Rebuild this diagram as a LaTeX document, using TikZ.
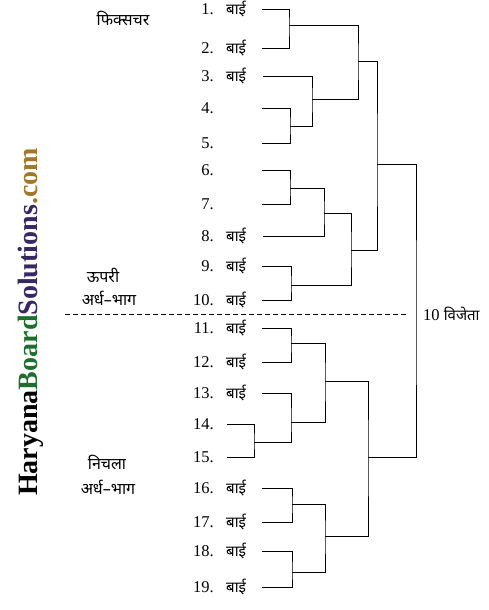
\documentclass[tikz,border=0pt]{standalone}
\usepackage{fontspec}
\setmainfont{Liberation Serif}
\newfontfamily\hindi[Script=Devanagari]{Noto Sans}
\usepackage{tikz}
\definecolor{wmgreen}{RGB}{30,110,45}
\definecolor{wmblue}{RGB}{55,40,100}
\definecolor{wmgold}{RGB}{160,120,40}
\tikzset{
  num/.style={anchor=east,inner sep=0pt,font=\fontsize{16.5}{16.5}\selectfont},
  who/.style={anchor=base west,inner sep=0pt,font=\hindi\fontsize{15}{15}\selectfont},
  side/.style={inner sep=0pt,font=\hindi\fontsize{16}{16}\selectfont},
  tree/.style={line width=0.9pt,black},
}

\begin{document}
\begin{tikzpicture}[x=1pt,y=1pt]
\useasboundingbox (0,0) rectangle (489,-610);
% players
\foreach \i/\y/\x/\w in {1/9/262/बाई,2/48/262/बाई,3/76/263/बाई,4/108/262/{},5/143/262/{},
  6/170/262/{},7/204/262/{},8/236/263/बाई,9/266/262/बाई,10/300/262/बाई,
  11/328/262/बाई,12/362/262/बाई,13/393/262/बाई,14/424/227/{},15/457/227/{},
  16/488/262/बाई,17/522/262/बाई,18/551/262/बाई,19/587/262/बाई}{
  \node[num] (n\i) at (214,-\y) {\i.};
  \node[who] (b\i) at (226,-\y-5.5) {\w};
  \coordinate (s\i) at (\x,-\y);
}
% matches
\coordinate (m12) at (289,-25);
\coordinate (m45) at (290,-126);
\coordinate (m35) at (312,-99);
\coordinate (m15) at (358,-61);
\coordinate (m67) at (290,-188);
\coordinate (m68) at (324,-213);
\coordinate (m910) at (291,-285);
\coordinate (m610) at (351,-250);
\coordinate (m110) at (377,-164);
\coordinate (m1112) at (291,-343);
\coordinate (m1415) at (254,-442);
\coordinate (m1315) at (291,-422);
\coordinate (m1115) at (325,-381);
\coordinate (m1617) at (292,-504);
\coordinate (m1819) at (292,-572);
\coordinate (m1619) at (325,-536);
\coordinate (m1119) at (368,-457);
\coordinate (win) at (416,-314);
\draw[tree] (s1) -| (m12) |- (s2);
\draw[tree] (s4) -| (m45) |- (s5);
\draw[tree] (s3) -| (m35) |- (m45);
\draw[tree] (m12) -| (m15) |- (m35);
\draw[tree] (s6) -| (m67) |- (s7);
\draw[tree] (m67) -| (m68) |- (s8);
\draw[tree] (s9) -| (m910) |- (s10);
\draw[tree] (m68) -| (m610) |- (m910);
\draw[tree] (m15) -| (m110) |- (m610);
\draw[tree] (s11) -| (m1112) |- (s12);
\draw[tree] (s14) -| (m1415) |- (s15);
\draw[tree] (s13) -| (m1315) |- (m1415);
\draw[tree] (m1112) -| (m1115) |- (m1315);
\draw[tree] (s16) -| (m1617) |- (s17);
\draw[tree] (s18) -| (m1819) |- (s19);
\draw[tree] (m1617) -| (m1619) |- (m1819);
\draw[tree] (m1115) -| (m1119) |- (m1619);
\draw[tree] (m110) -| (win) |- (m1119);
% halves
\draw[line width=0.8pt,dash pattern=on 5pt off 3pt] (65,-314) coordinate (dl) -- (407,-314) coordinate (dr);
\node[anchor=west,inner sep=0pt,font=\fontsize{16.5}{16.5}\selectfont] (winner) at (423,-314) {10 {\hindi\fontsize{15}{15}\selectfont विजेता}};
\node[side] (fix) at (123,-18) {फिक्सचर};
\node[side] (up) at (103,-275) {ऊपरी};
\node[side] (uphalf) at (109,-298) {अर्ध–भाग};
\node[side] (low) at (107,-462) {निचला};
\node[side] (lowhalf) at (108,-487) {अर्ध–भाग};
\node[rotate=90,inner sep=0pt,font=\bfseries\fontsize{28}{28}\selectfont] (site) at (31,-322)
  {Haryana\textcolor{wmgreen}{Board}\textcolor{wmblue}{Solutions}\textcolor{wmgold}{.com}};
\end{tikzpicture}
\end{document}
